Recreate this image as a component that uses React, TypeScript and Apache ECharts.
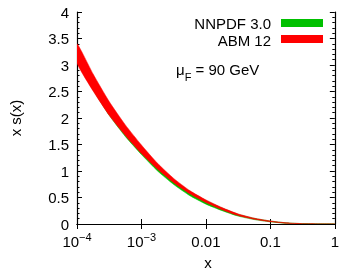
import React, { useEffect, useRef } from 'react';
import * as echarts from 'echarts';

// x grid (quarter-decade steps)
const xValues = [1e-4, 1.778e-4, 3.162e-4, 5.623e-4, 1e-3, 1.778e-3, 3.162e-3, 5.623e-3, 1e-2, 1.778e-2, 3.162e-2, 5.623e-2, 0.1, 0.1778, 0.3162, 0.5623, 1];

// ABM 12: central values and half-width of band
const abmCentral = [3.22, 2.67, 2.18, 1.77, 1.41, 1.09, 0.82, 0.6, 0.43, 0.29, 0.175, 0.1, 0.05, 0.018, 0.005, 0.001, 0];
const abmError = [0.18, 0.16, 0.13, 0.1, 0.08, 0.055, 0.04, 0.03, 0.025, 0.02, 0.015, 0.01, 0.007, 0.004, 0.002, 0.001, 0.001];

// NNPDF 3.0
const nnpdfCentral = [3.17, 2.62, 2.13, 1.72, 1.37, 1.05, 0.79, 0.575, 0.41, 0.277, 0.167, 0.095, 0.048, 0.017, 0.005, 0.001, 0];
const nnpdfError = [0.1, 0.09, 0.08, 0.07, 0.06, 0.05, 0.045, 0.04, 0.035, 0.025, 0.018, 0.012, 0.008, 0.005, 0.003, 0.002, 0.001];

const xTickLabels: Record<number, string> = {
  [-4]: '{b|10}{s|−4}',
  [-3]: '{b|10}{s|−3}',
  [-2]: '{b|0.01}',
  [-1]: '{b|0.1}',
  [0]: '{b|1}',
};

const seriesNames = ['NNPDF 3.0', 'ABM 12'];
const colors = ['#00c000', '#ff0000'];

const FONT = '"Liberation Sans", Arial, sans-serif';

function band(name: string, central: number[], err: number[], color: string) {
  const data = xValues.map((x, i) => [x, central[i] - err[i], central[i] + err[i]]);
  return {
    type: 'custom',
    name,
    clip: true,
    silent: true,
    data,
    encode: { x: 0, y: [1, 2] },
    renderItem: (params: any, api: any) => {
      if (params.dataIndex !== 0) return null;
      const upper = data.map((d) => api.coord([d[0], d[2]]));
      const lower = data.map((d) => api.coord([d[0], d[1]])).reverse();
      return {
        type: 'polygon',
        shape: { points: upper.concat(lower), smooth: 0.2 },
        style: { fill: color, stroke: color, lineWidth: 0.5 },
      };
    },
  };
}

export default function App() {
  const ref = useRef<HTMLDivElement>(null);
  useEffect(() => {
    if (!ref.current) return;
    const chart = echarts.init(ref.current, undefined, { renderer: 'svg' });
    const axisCommon = {
      axisLine: { show: true, lineStyle: { color: '#000', width: 1.2 } },
      splitLine: { show: false },
    };
    chart.setOption({
      animation: false,
      grid: { left: 77, right: 2, top: 12, bottom: 45 },
      xAxis: [
        {
          type: 'log',
          logBase: 10,
          min: 1e-4,
          max: 1,
          ...axisCommon,
          axisTick: { show: true, inside: true, length: 5, lineStyle: { color: '#000' } },
          minorTick: { show: false },
          axisLabel: {
            margin: 7,
            formatter: (v: number) => xTickLabels[Math.round(Math.log10(v))] ?? '',
            rich: {
              b: { fontSize: 15, fontFamily: FONT, color: '#000', verticalAlign: 'bottom', lineHeight: 18 },
              s: { fontSize: 11, fontFamily: FONT, color: '#000', verticalAlign: 'top', padding: [0, 0, 8, 0], lineHeight: 18 },
            },
          },
        },
        {
          type: 'log',
          logBase: 10,
          min: 1e-4,
          max: 1,
          position: 'top',
          ...axisCommon,
          axisTick: { show: true, inside: true, length: 5, lineStyle: { color: '#000' } },
          axisLabel: { show: false },
        },
      ],
      yAxis: [
        {
          type: 'value',
          min: 0,
          max: 4,
          interval: 0.5,
          ...axisCommon,
          axisTick: { show: true, inside: true, length: 5, lineStyle: { color: '#000' } },
          minorTick: { show: true, splitNumber: 5, length: 2.5, lineStyle: { color: '#000' } },
          axisLabel: {
            margin: 8,
            fontSize: 15,
            fontFamily: FONT,
            color: '#000',
            formatter: (v: number) => String(v),
          },
        },
        {
          type: 'value',
          min: 0,
          max: 4,
          interval: 0.5,
          position: 'right',
          ...axisCommon,
          axisTick: { show: true, inside: true, length: 5, lineStyle: { color: '#000' } },
          minorTick: { show: true, splitNumber: 5, length: 2.5, lineStyle: { color: '#000' } },
          axisLabel: { show: false },
        },
      ],
      series: [
        band(seriesNames[0], nnpdfCentral, nnpdfError, colors[0]),
        band(seriesNames[1], abmCentral, abmError, colors[1]),
      ],
      graphic: [
        {
          type: 'text',
          x: 271,
          y: 23,
          style: { text: seriesNames[0], align: 'right', verticalAlign: 'middle', font: `15px ${FONT}`, fill: '#000' },
        },
        { type: 'rect', shape: { x: 281, y: 19, width: 42, height: 8 }, style: { fill: colors[0] } },
        {
          type: 'text',
          x: 271,
          y: 40,
          style: { text: seriesNames[1], align: 'right', verticalAlign: 'middle', font: `15px ${FONT}`, fill: '#000' },
        },
        { type: 'rect', shape: { x: 281, y: 35, width: 42, height: 8 }, style: { fill: colors[1] } },
        {
          type: 'text',
          x: 176,
          y: 72,
          style: {
            text: '{m|μ}{s|F}{m| = 90 GeV}',
            verticalAlign: 'middle',
            rich: {
              m: { fontSize: 15, fontFamily: FONT, fill: '#000', verticalAlign: 'top', lineHeight: 20 },
              s: { fontSize: 11, fontFamily: FONT, fill: '#000', verticalAlign: 'bottom', lineHeight: 20, padding: [8, 0, 0, 0] },
            },
          },
        },
        {
          type: 'text',
          x: 15,
          y: 118,
          rotation: Math.PI / 2,
          style: { text: 'x s(x)', align: 'center', verticalAlign: 'middle', font: `15px ${FONT}`, fill: '#000' },
        },
        {
          type: 'text',
          x: 208,
          y: 262,
          style: { text: 'x', align: 'center', verticalAlign: 'middle', font: `15px ${FONT}`, fill: '#000' },
        },
      ],
    });
    return () => chart.dispose();
  }, []);
  return <div ref={ref} style={{ position: 'fixed', left: 0, top: 0, width: 342, height: 269 }} />;
}
